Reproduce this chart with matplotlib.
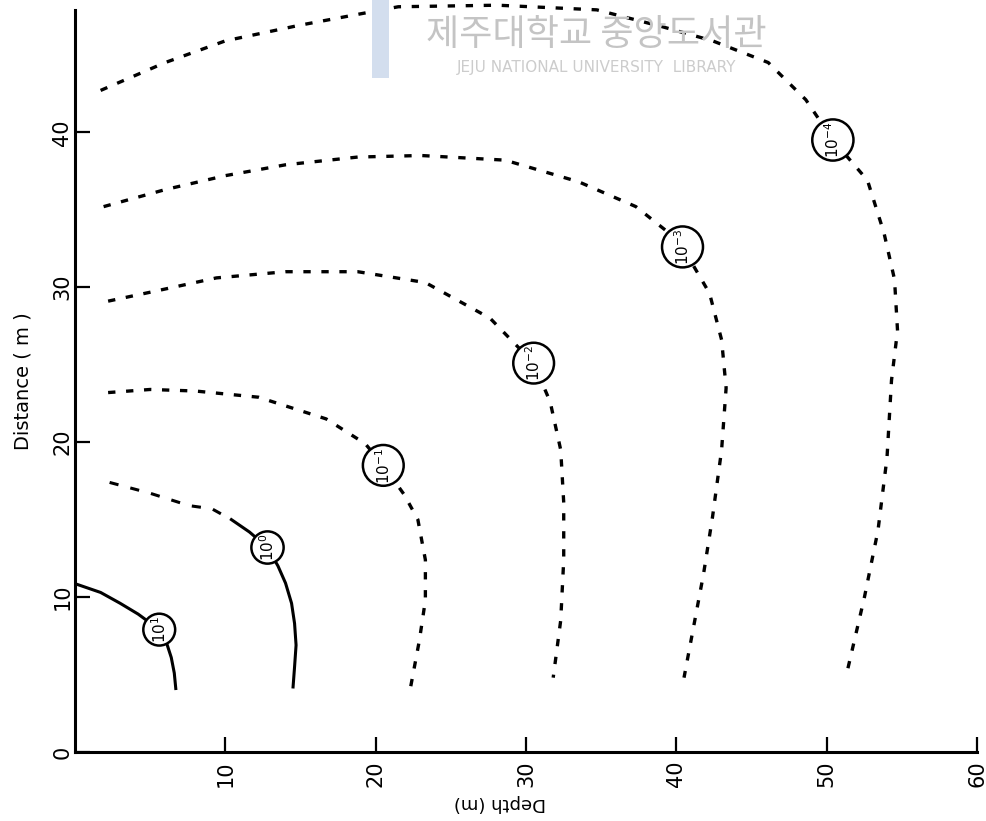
import matplotlib
matplotlib.use("Agg")
import matplotlib.pyplot as plt
from matplotlib.patches import Rectangle

# contour lines (depth m, distance m)
depth_p1 = [0.2, 1.7, 3.0, 4.2, 4.9, 5.6, 6.1, 6.4, 6.6, 6.7]
dist_p1 = [10.8, 10.3, 9.6, 8.9, 8.4, 7.9, 7.0, 6.1, 5.1, 4.1]

depth_p0_dash = [2.3, 5.0, 7.6, 9.1, 10.4]
dist_p0_dash = [17.4, 16.7, 15.9, 15.7, 15.0]
depth_p0 = [10.4, 11.6, 12.8, 13.5, 14.0, 14.4, 14.6, 14.7, 14.6, 14.5]
dist_p0 = [15.0, 14.2, 13.2, 12.0, 10.9, 9.6, 8.3, 6.9, 5.5, 4.2]

depth_m1 = [2.2, 5.0, 8.0, 12.2, 16.7, 19.3, 20.5, 21.9, 22.8, 23.3, 23.3, 22.9, 22.3]
dist_m1 = [23.2, 23.4, 23.3, 22.9, 21.5, 19.9, 18.5, 16.6, 15.0, 12.4, 9.8, 7.2, 4.1]

depth_m2 = [2.2, 5.6, 9.4, 14.0, 18.8, 23.3, 27.6, 29.5, 30.5, 31.6, 32.3, 32.5,
            32.5, 32.3, 31.8]
dist_m2 = [29.1, 29.8, 30.6, 31.0, 31.0, 30.3, 28.0, 26.1, 25.1, 22.6, 19.5, 16.1,
           12.4, 8.5, 4.8]

depth_m3 = [1.9, 6.0, 10.0, 14.0, 18.8, 23.0, 28.6, 33.5, 37.3, 39.5, 40.4, 42.2,
            43.0, 43.3, 43.0, 42.4, 41.8, 40.5]
dist_m3 = [35.2, 36.3, 37.2, 37.9, 38.4, 38.5, 38.2, 36.8, 35.2, 33.5, 32.6, 29.6,
           26.6, 23.5, 19.5, 15.2, 11.5, 4.8]

depth_m4 = [1.7, 6.0, 10.0, 14.9, 21.5, 28.1, 34.7, 39.1, 42.4, 46.1, 48.6, 50.4,
            52.7, 53.8, 54.5, 54.7, 54.3, 54.0, 53.4, 52.5, 51.4]
dist_m4 = [42.7, 44.5, 45.9, 46.9, 48.1, 48.2, 47.9, 46.8, 45.9, 44.5, 42.1, 39.5,
           36.9, 33.5, 30.5, 27.2, 24.0, 19.0, 14.3, 10.0, 5.4]

labels = ['$10^{1}$', '$10^{0}$', '$10^{-1}$', '$10^{-2}$', '$10^{-3}$', '$10^{-4}$']
label_x = [5.6, 12.8, 20.5, 30.5, 40.4, 50.4]
label_y = [7.9, 13.2, 18.5, 25.1, 32.6, 39.5]

xticks = [10, 20, 30, 40, 50, 60]
yticks = [0, 10, 20, 30, 40]


def main():
    fig = plt.figure(figsize=(9.86, 8.21), dpi=100)
    ax = fig.add_axes([0.0761, 0.084, 0.915, 0.904])
    ax.patch.set_alpha(0)

    # library watermark (faint, behind the lines)
    fig.patches.append(Rectangle((0.377, 0.905), 0.018, 0.095, transform=fig.transFigure,
                                 fc='#d3deee', ec='none', zorder=0))
    fig.text(0.605, 0.957, '제주대학교 중앙도서관', fontsize=26, color='#c4c4c4',
             family=['Noto Sans CJK KR', 'DejaVu Sans'], ha='center', va='center', zorder=0)
    fig.text(0.605, 0.918, 'JEJU NATIONAL UNIVERSITY  LIBRARY', fontsize=11, color='#cccccc',
             family='DejaVu Sans', ha='center', va='center', zorder=0)

    dash = (0, (2.2, 3.2))
    kw = dict(color='black', clip_on=False)
    ax.plot(depth_p1, dist_p1, lw=2.2, **kw)
    ax.plot(depth_p0_dash, dist_p0_dash, lw=2.2, linestyle=(0, (3, 4)), **kw)
    ax.plot(depth_p0, dist_p0, lw=2.2, **kw)
    ax.plot(depth_m1, dist_m1, lw=2.4, linestyle=dash, **kw)
    ax.plot(depth_m2, dist_m2, lw=2.4, linestyle=dash, **kw)
    ax.plot(depth_m3, dist_m3, lw=2.4, linestyle=dash, **kw)
    ax.plot(depth_m4, dist_m4, lw=2.4, linestyle=dash, **kw)

    for lab, x, y in zip(labels, label_x, label_y):
        ax.text(x, y, lab, rotation=90, ha='center', va='center', fontsize=11,
                fontweight='bold',
                bbox=dict(boxstyle='circle,pad=0.15', fc='white', ec='black', lw=1.8),
                zorder=5)

    ax.set_xlim(0, 60)
    ax.set_ylim(0, 47.9)
    ax.set_xticks(xticks)
    ax.set_xticklabels([str(t) for t in xticks], rotation=90, fontsize=15)
    ax.set_yticks(yticks)
    ax.set_yticklabels([str(t) for t in yticks], rotation=90, fontsize=15, va='center')
    ax.tick_params(direction='in', length=11, width=1.6, pad=6)
    ax.tick_params(axis='y', pad=2)

    for s in ['top', 'right']:
        ax.spines[s].set_visible(False)
    for s in ['left', 'bottom']:
        ax.spines[s].set_linewidth(2.2)

    ax.set_xlabel('Depth (m)', fontsize=13, rotation=180)
    ax.xaxis.set_label_coords(0.471, -0.056)
    ax.set_ylabel('Distance ( m )', fontsize=14, labelpad=14)

    fig.savefig('out.png', dpi=100)


if __name__ == "__main__":
    main()
